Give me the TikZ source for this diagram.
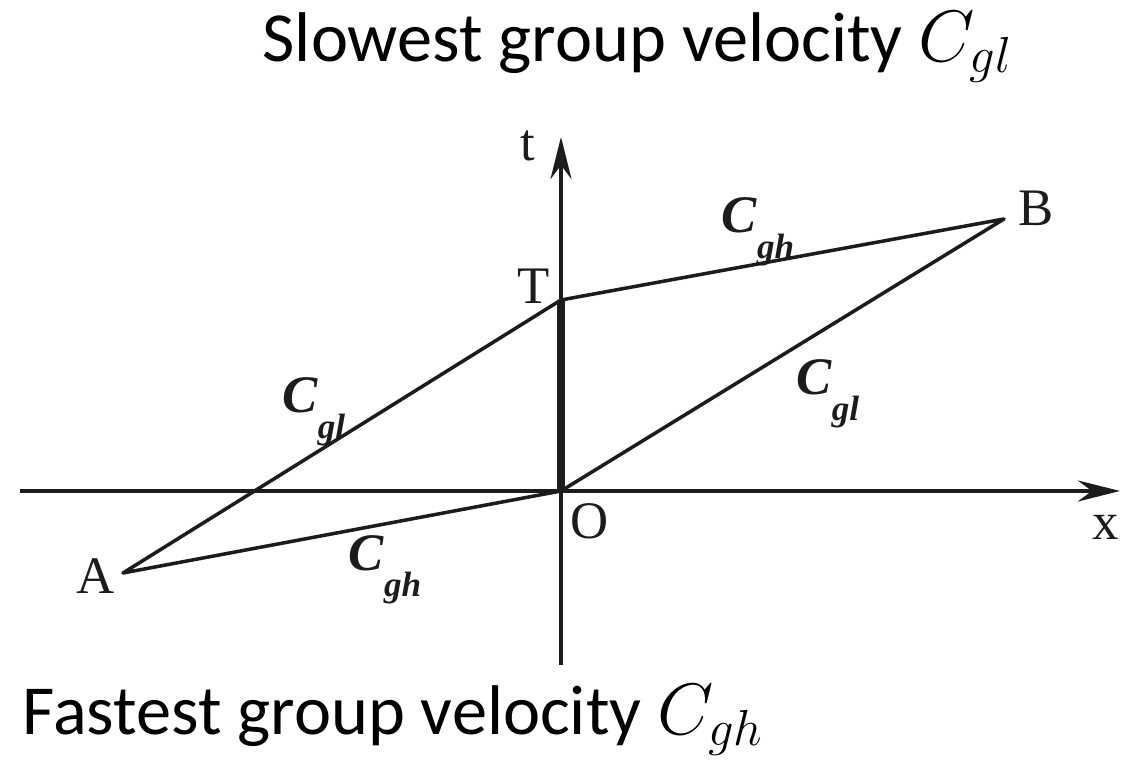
\documentclass[tikz,border=0pt]{standalone}
\usepackage{fontspec}
\setmainfont{Carlito}
\newfontfamily\labfont{Liberation Serif}
\usetikzlibrary{arrows.meta}
\definecolor{Ink}{HTML}{1C1C1C}
\tikzset{
  axis/.style={draw=Ink,line width=1pt,-{Stealth[length=12pt,width=6pt,inset=4pt]}},
  ray/.style={draw=Ink,line width=1pt,line join=round,line cap=round},
  heavyray/.style={draw=Ink,line width=2.2pt},
  pt/.style={font=\labfont\fontsize{15}{17}\selectfont,text=Ink,inner sep=0pt},
  vel/.style={font=\labfont\bfseries\itshape\fontsize{15}{17}\selectfont,text=Ink,inner sep=0pt},
  caption/.style={font=\fontsize{20}{24}\selectfont,anchor=base west,inner sep=0pt}
}
\newcommand{\vlab}[2]{#1\raisebox{-0.5em}{\fontsize{10}{11}\selectfont #2}}

\begin{document}
\begin{tikzpicture}[x=0.01cm,y=-0.01cm]
  \useasboundingbox (0,0) rectangle (1129,762);
  % captions
  \node[caption] (slow) at (262,62) {Slowest group velocity $C_{gl}$};
  \node[caption] (fast) at (22,735) {Fastest group velocity $C_{gh}$};

  % points of the diagram
  \coordinate (O) at (561,491);
  \coordinate (T) at (561,300);
  \coordinate (A) at (123,573);
  \coordinate (B) at (1004,219);
  \coordinate (xL) at (20,491);
  \coordinate (xR) at (1120,491);
  \coordinate (tB) at (561,665);
  \coordinate (tT) at (561,137);

  % axes
  \draw[axis] (xL) -- (xR);
  \draw[axis] (tB) -- (tT);

  % parallelogram
  \draw[ray] (A) -- (O) -- (B) -- (T) -- cycle;
  \draw[heavyray] (O) -- (T);

  % labels
  \node[pt] (labt) at (528,146) {t};
  \node[pt] (labT) at (534,286) {T};
  \node[pt] (labO) at (590,521) {O};
  \node[pt] (labA) at (96,576) {A};
  \node[pt] (labB) at (1036,208) {B};
  \node[pt] (labx) at (1106,527) {x};

  \node[vel] (cglL) at (314,412) {\vlab{C}{gl}};
  \node[vel] (cghA) at (385,570) {\vlab{C}{gh}};
  \node[vel] (cghB) at (758,232) {\vlab{C}{gh}};
  \node[vel] (cglR) at (828,394) {\vlab{C}{gl}};
\end{tikzpicture}
\end{document}
